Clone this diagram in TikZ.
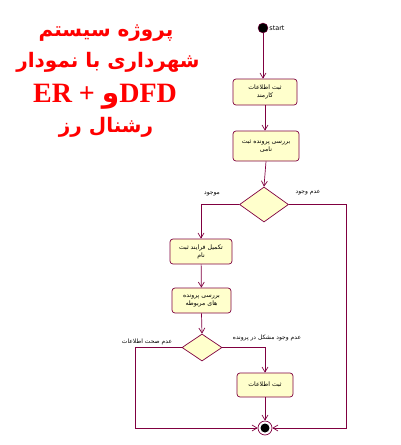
\documentclass[tikz,border=0pt]{standalone}
\usepackage{fontspec}
\usetikzlibrary{shapes.geometric,arrows.meta}
\TeXXeTstate=1
\newfontfamily\arabicfont[Script=Arabic]{DejaVu Sans}
\newfontfamily\titlear[Script=Arabic]{DejaVu Sans}
\newfontfamily\titlelat{Liberation Serif}
\newfontfamily\smallsans{DejaVu Sans}
\definecolor{maroon}{RGB}{128,0,64}
\definecolor{boxfill}{RGB}{255,255,204}
\newcommand{\ar}[1]{{\arabicfont\beginR #1\endR}}
\begin{document}
\begin{tikzpicture}[x=1pt,y=-1pt,
  actbox/.style={draw=maroon,fill=boxfill,rounded corners=3pt,align=center,inner sep=1pt,font=\arabicfont\fontsize{6.2}{8}\selectfont,line width=0.7pt},
  decision/.style={diamond,draw=maroon,fill=boxfill,inner sep=0pt,line width=0.7pt},
  flow/.style={draw=maroon,line width=0.7pt},
  arr/.style={flow,-{Straight Barb[length=5pt,width=6pt]}},
  lbl/.style={font=\arabicfont\fontsize{6}{7}\selectfont,inner sep=0pt},
  titlestyle/.style={text=red,font=\titlear\bfseries\fontsize{20}{24}\selectfont,inner sep=0pt}]
\path[use as bounding box,fill=white] (0,0) rectangle (400,445);

% title
\node[titlestyle] (t1) at (106,33) {\beginR پروژه سیستم\endR};
\node[titlestyle] (t2) at (108,62) {\beginR شهرداری با نمودار\endR};
\node[text=red,inner sep=0pt,font=\fontsize{28}{30}\selectfont] (t3) at (105,97) {{\titlelat\bfseries ER + }{\titlear\bfseries و}{\titlelat\bfseries DFD}};
\node[titlestyle] (t4) at (106,127) {\beginR رشنال رز\endR};

% start
\node[circle,fill=black,draw=maroon,minimum size=10pt,inner sep=0pt] (start) at (263,28) {};
\node[anchor=west,inner sep=1pt,font=\smallsans\fontsize{6.5}{7}\selectfont] (startlbl) at (start.east) {start};

% boxes
\node[actbox,minimum width=64pt,minimum height=26pt] (b1) at (265,92) {\ar{ثبت اطلاعات}\\\ar{کارمند}};
\node[actbox,minimum width=66pt,minimum height=30pt] (b2) at (266,146) {\ar{بررسی پرونده ثبت}\\\ar{نامی}};
\node[decision,minimum width=49pt,minimum height=35pt] (d1) at (264,204.5) {};
\node[actbox,minimum width=62pt,minimum height=25pt] (b3) at (201,251.5) {\ar{تکمیل فرایند ثبت}\\\ar{نام}};
\node[actbox,minimum width=59pt,minimum height=25pt] (b4) at (201.5,300.5) {\ar{بررسی پرونده}\\\ar{های مربوطه}};
\node[decision,minimum width=40pt,minimum height=27pt] (d2) at (202,347.5) {};
\node[actbox,minimum width=56pt,minimum height=24pt] (b5) at (265,385) {\ar{ثبت اطلاعات}};

% end
\node[circle,draw=maroon,fill=white,line width=0.7pt,minimum size=14pt,inner sep=0pt] (end) at (265,428) {};
\node[circle,fill=black,minimum size=9pt,inner sep=0pt] (endin) at (end.center) {};

% coordinates
\coordinate (rc) at (346,428);
\coordinate (lc) at (135,428);

% connectors
\draw[arr] (start) -- (start |- b1.north);
\draw[arr] (b1) -- (b1 |- b2.north);
\draw[arr] (b2.south) -- (d1.north);
\draw[arr] (d1.west) -| (b3.north);
\draw[arr] (d1.east) -| (rc) -- (end.east);
\draw[arr] (b3) -- (b4);
\draw[arr] (b4.south) -- (d2.north);
\draw[arr] (d2.west) -| (lc) -- (end.west);
\draw[arr] (d2.east) -| (b5.north);
\draw[arr] (b5) -- (end);

% labels
\node[lbl] (l1) at (212,194) {\ar{موجود}};
\node[lbl] (l2) at (308,193) {\ar{عدم وجود}};
\node[lbl] (l3) at (147,342) {\ar{عدم صحت اطلاعات}};
\node[lbl] (l4) at (267,338) {\ar{عدم وجود مشکل در پرونده}};
\end{tikzpicture}
\end{document}
